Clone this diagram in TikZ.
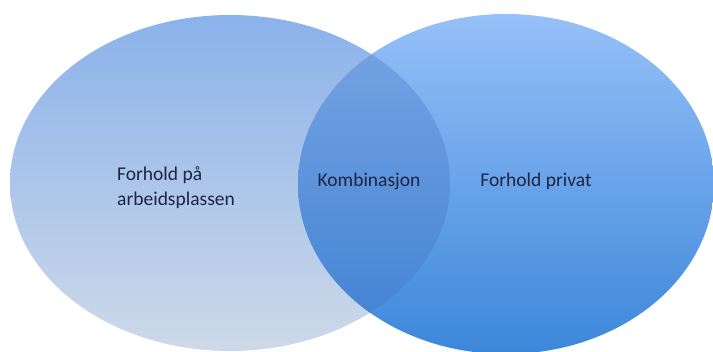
\documentclass[tikz,border=0pt]{standalone}
\usepackage{fontspec}
\setmainfont{Carlito}

\definecolor{leftTop}{RGB}{138,178,235}
\definecolor{leftBottom}{RGB}{206,217,232}
\definecolor{rightTop}{RGB}{150,192,248}
\definecolor{rightBottom}{RGB}{60,135,218}
\definecolor{midTop}{RGB}{122,166,228}
\definecolor{midBottom}{RGB}{62,128,210}
\definecolor{textNavy}{RGB}{28,38,68}

\begin{document}
\begin{tikzpicture}[x=1pt,y=-1pt,
	txt/.style={font=\fontsize{19.5}{25}\selectfont, text=textNavy, inner sep=0pt}]

	\useasboundingbox (0,0) rectangle (713,352);

	% left circle: work
	\shade[top color=leftTop, bottom color=leftBottom]
		(230,183) ellipse [x radius=220, y radius=168];

	% right circle: private
	\shade[top color=rightTop, bottom color=rightBottom]
		(506,184) ellipse [x radius=208, y radius=170];

	% overlap
	\begin{scope}
		\clip (230,183) ellipse [x radius=220, y radius=168];
		\shade[top color=midTop, bottom color=midBottom]
			(506,184) ellipse [x radius=208, y radius=170];
	\end{scope}

	% labels
	\node[txt, anchor=west, align=left] (work) at (117,188) {Forhold på\\arbeidsplassen};
	\node[txt] (combo) at (369,181) {Kombinasjon};
	\node[txt] (private) at (536,181) {Forhold privat};

\end{tikzpicture}
\end{document}
